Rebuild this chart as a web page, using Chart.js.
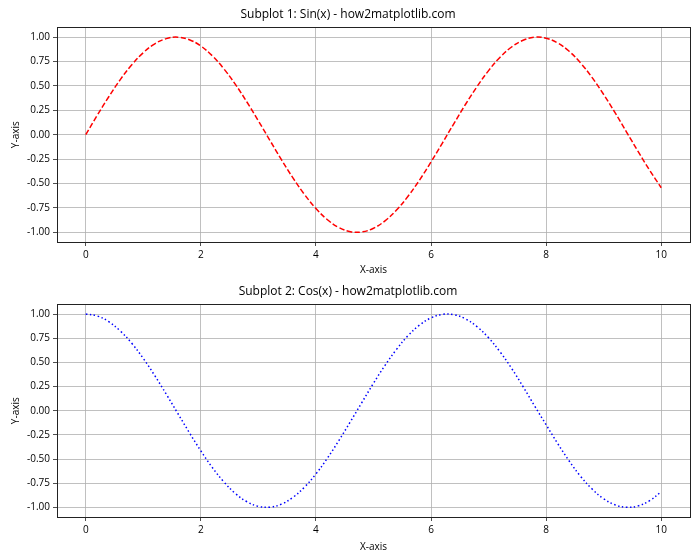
<!DOCTYPE html>
<html>
<head>
<meta charset="utf-8">
<script src="https://cdn.jsdelivr.net/npm/chart.js@4/dist/chart.umd.min.js"></script>
<style>
  body { margin: 0; background: #fff; }
  .box { position: absolute; left: 0; width: 700px; height: 280px; }
</style>
</head>
<body>
<div class="box" style="top:0"><canvas id="sinChart" width="700" height="280"></canvas></div>
<div class="box" style="top:277px"><canvas id="cosChart" width="700" height="280"></canvas></div>
<script>
const xValues = [0, 0.2, 0.4, 0.6, 0.8, 1, 1.2, 1.4, 1.6, 1.8, 2, 2.2, 2.4, 2.6, 2.8, 3, 3.2, 3.4, 3.6, 3.8,
  4, 4.2, 4.4, 4.6, 4.8, 5, 5.2, 5.4, 5.6, 5.8, 6, 6.2, 6.4, 6.6, 6.8, 7, 7.2, 7.4, 7.6, 7.8,
  8, 8.2, 8.4, 8.6, 8.8, 9, 9.2, 9.4, 9.6, 9.8, 10];
const sinValues = [0, 0.199, 0.389, 0.565, 0.717, 0.841, 0.932, 0.985, 1.0, 0.974, 0.909, 0.808, 0.675, 0.516, 0.335, 0.141,
  -0.058, -0.256, -0.443, -0.612, -0.757, -0.872, -0.952, -0.994, -0.996, -0.959, -0.883, -0.773, -0.631, -0.465, -0.279,
  -0.083, 0.117, 0.312, 0.494, 0.657, 0.794, 0.899, 0.968, 0.999, 0.989, 0.941, 0.855, 0.734, 0.585, 0.412, 0.223,
  0.025, -0.174, -0.366, -0.544];
const cosValues = [1.0, 0.98, 0.921, 0.825, 0.697, 0.54, 0.362, 0.17, -0.029, -0.227, -0.416, -0.589, -0.737, -0.857, -0.942,
  -0.99, -0.998, -0.967, -0.897, -0.791, -0.654, -0.49, -0.307, -0.112, 0.087, 0.284, 0.469, 0.635, 0.776, 0.886, 0.96,
  0.997, 0.993, 0.95, 0.869, 0.754, 0.608, 0.438, 0.248, 0.049, -0.146, -0.339, -0.52, -0.68, -0.811, -0.911, -0.975,
  -1.0, -0.985, -0.93, -0.839];
const xTicks = [0, 2, 4, 6, 8, 10];
const yTicks = [-1, -0.75, -0.5, -0.25, 0, 0.25, 0.5, 0.75, 1];

const FONT = "'Open Sans', 'DejaVu Sans', sans-serif";

// matplotlib style box around the plot area
const frame = {
  id: 'frame',
  afterDraw(chart) {
    const a = chart.chartArea, c = chart.ctx;
    c.save();
    c.strokeStyle = '#222';
    c.lineWidth = 1;
    c.strokeRect(Math.round(a.left) + 0.5, Math.round(a.top) + 0.5,
      Math.round(a.right - a.left), Math.round(a.bottom - a.top));
    c.restore();
  }
};

function makeChart(id, title, values, color, dash, xAxisHeight) {
  return new Chart(document.getElementById(id), {
    type: 'line',
    data: {
      datasets: [{
        data: xValues.map((x, i) => ({ x: x, y: values[i] })),
        borderColor: color,
        borderWidth: 1.5,
        borderDash: dash,
        pointRadius: 0,
        tension: 0.4,
        fill: false
      }]
    },
    options: {
      responsive: false,
      animation: false,
      layout: { padding: { left: 6, right: 10, top: 0, bottom: 0 } },
      plugins: {
        legend: { display: false },
        tooltip: { enabled: false },
        title: {
          display: true,
          text: title,
          color: '#000',
          font: { family: FONT, size: 12, weight: 'normal' },
          padding: { top: 7, bottom: 6 }
        }
      },
      scales: {
        x: {
          type: 'linear',
          min: -0.5,
          max: 10.5,
          afterBuildTicks: s => { s.ticks = xTicks.map(v => ({ value: v })); },
          afterFit: s => { s.height = xAxisHeight; },
          ticks: { color: '#000', font: { family: FONT, size: 10 }, padding: 3, maxRotation: 0 },
          grid: { color: '#b0b0b0', lineWidth: 0.8, tickColor: '#222', tickLength: 4 },
          border: { color: '#222', width: 1 },
          title: { display: true, text: 'X-axis', color: '#000', font: { family: FONT, size: 10 }, padding: { top: 0 } }
        },
        y: {
          min: -1.1,
          max: 1.1,
          afterBuildTicks: s => { s.ticks = yTicks.map(v => ({ value: v })); },
          afterFit: s => { s.width = 51; },
          ticks: { color: '#000', font: { family: FONT, size: 10 }, padding: 3, callback: v => v.toFixed(2) },
          grid: { color: '#b0b0b0', lineWidth: 0.8, tickColor: '#222', tickLength: 4 },
          border: { color: '#222', width: 1 },
          title: { display: true, text: 'Y-axis', color: '#000', font: { family: FONT, size: 10 }, padding: { bottom: 2 } }
        }
      }
    },
    plugins: [frame]
  });
}

makeChart('sinChart', 'Subplot 1: Sin(x) - how2matplotlib.com', sinValues, '#ff0000', [5.5, 2.4], 38);
makeChart('cosChart', 'Subplot 2: Cos(x) - how2matplotlib.com', cosValues, '#0000ff', [1.5, 2.5], 40);
</script>
</body>
</html>
